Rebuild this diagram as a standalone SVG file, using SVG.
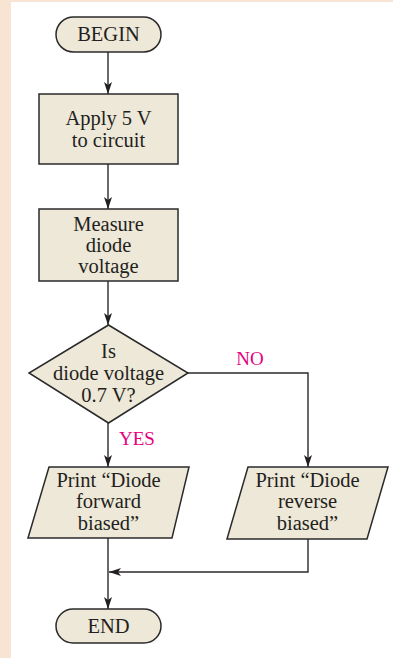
<svg xmlns="http://www.w3.org/2000/svg" width="393" height="658" viewBox="0 0 393 658">
<style>
.n{fill:#EEE8D8;stroke:#2a2a2a;stroke-width:1.5}
.t{font-family:"Liberation Serif","DejaVu Serif",serif;font-size:20.5px;fill:#231f20;text-anchor:middle}
.l{font-family:"Liberation Serif","DejaVu Serif",serif;font-size:19px;fill:#E6007E;text-anchor:middle}
.c{fill:none;stroke:#2a2a2a;stroke-width:1.4}
</style>
<defs>
<marker id="ah" markerWidth="12" markerHeight="8" refX="12" refY="4" orient="auto" markerUnits="userSpaceOnUse">
<path d="M0,0 L12,4 L0,8 L3,4 Z" fill="#231f20"/>
</marker>
</defs>
<rect x="0" y="0" width="393" height="658" fill="#fff"/>
<rect x="0" y="0" width="11" height="658" fill="#F7E4D2"/>
<rect x="0" y="0" width="393" height="2" fill="#F7E4D2"/>
<g id="connectors">
<line class="c" x1="108" y1="52" x2="108" y2="94" marker-end="url(#ah)"/>
<line class="c" x1="108" y1="164" x2="108" y2="209" marker-end="url(#ah)"/>
<line class="c" x1="108" y1="281" x2="108" y2="325" marker-end="url(#ah)"/>
<line class="c" x1="108" y1="423" x2="108" y2="467" marker-end="url(#ah)"/>
<polyline class="c" points="188,373 308,373 308,467" marker-end="url(#ah)"/>
<line class="c" x1="108" y1="538" x2="108" y2="609" marker-end="url(#ah)"/>
<polyline class="c" points="308,539 308,572 109,572" marker-end="url(#ah)"/>
<text class="l" x="137" y="445">YES</text>
<text class="l" x="250" y="365">NO</text>
</g>
<g id="begin">
<rect class="n" x="56" y="17" width="105" height="35" rx="17.5"/>
<text class="t" x="108.5" y="41">BEGIN</text>
</g>
<g id="apply">
<rect class="n" x="39" y="94" width="139" height="70"/>
<text class="t" x="108.5" y="125">Apply 5 V</text>
<text class="t" x="108.5" y="147">to circuit</text>
</g>
<g id="measure">
<rect class="n" x="39" y="209" width="139" height="72"/>
<text class="t" x="108.5" y="231">Measure</text>
<text class="t" x="108.5" y="252">diode</text>
<text class="t" x="108.5" y="273">voltage</text>
</g>
<g id="decision">
<polygon class="n" points="108.5,325 188,373 108.5,423 29,373"/>
<text class="t" x="108.5" y="358">Is</text>
<text class="t" x="108.5" y="380">diode voltage</text>
<text class="t" x="108.5" y="402">0.7 V?</text>
</g>
<g id="forward">
<polygon class="n" points="49,467 189,467 172,538 28,538"/>
<text class="t" x="108.5" y="487">Print “Diode</text>
<text class="t" x="108.5" y="508">forward</text>
<text class="t" x="108.5" y="530">biased”</text>
</g>
<g id="reverse">
<polygon class="n" points="248,467 388,467 367,539 227,539"/>
<text class="t" x="307.5" y="487">Print “Diode</text>
<text class="t" x="307.5" y="508">reverse</text>
<text class="t" x="307.5" y="530">biased”</text>
</g>
<g id="end">
<rect class="n" x="56" y="609" width="105" height="34" rx="17"/>
<text class="t" x="108.5" y="633">END</text>
</g>
</svg>
